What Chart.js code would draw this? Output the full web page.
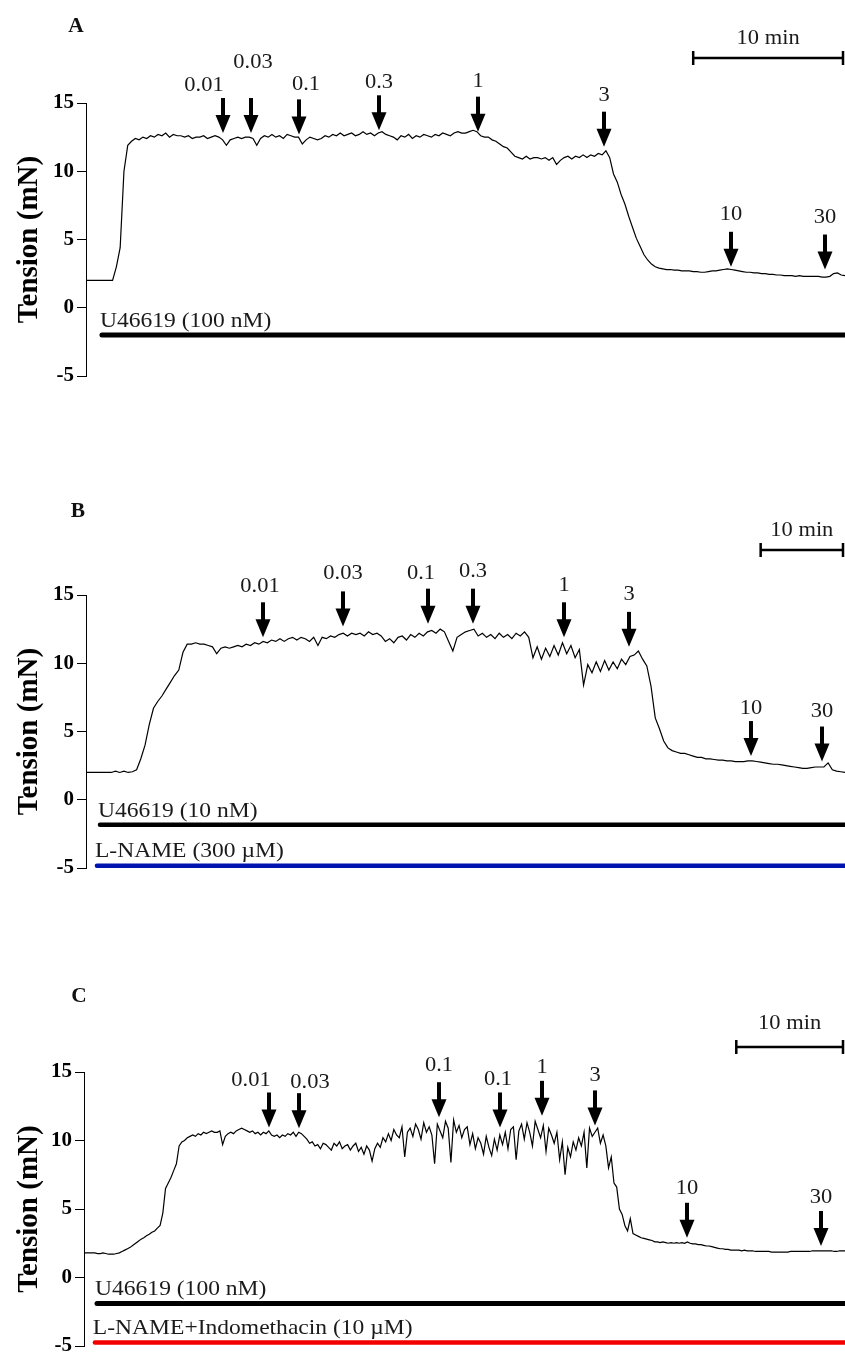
<!DOCTYPE html>
<html>
<head>
<meta charset="utf-8">
<script src="https://cdn.jsdelivr.net/npm/chart.js@4.4.1/dist/chart.umd.min.js"></script>
<style>
  body { margin: 0; background: #fff; }
  #wrap { position: relative; width: 845px; height: 1354px; }
  canvas { position: absolute; left: 0; }
</style>
</head>
<body>
<div id="wrap">
  <canvas id="panel-a" width="845" height="400" style="top:0"></canvas>
  <canvas id="panel-b" width="845" height="400" style="top:480px"></canvas>
  <canvas id="panel-c" width="845" height="394" style="top:960px"></canvas>
</div>
<script>
// Tension traces (mN), one reading per sample step (min)
const stepA = 0.25;
const tensionA = [
  2.0, 2.0, 2.0, 2.0, 2.0, 2.0, 2.0, 2.0, 3.0, 4.4, 10.0, 11.9, 12.2, 12.4, 12.3, 12.5, 12.4, 12.6, 12.5, 12.7,
  12.6, 12.8, 12.5, 12.7, 12.6, 12.6, 12.5, 12.6, 12.4, 12.5, 12.5, 12.6, 12.4, 12.5, 12.6, 12.5, 12.3, 11.9, 12.3, 12.4,
  12.5, 12.4, 12.5, 12.5, 12.4, 11.9, 12.4, 12.6, 12.5, 12.7, 12.5, 12.6, 12.4, 12.7, 12.6, 12.5, 12.5, 12.0, 12.3, 12.5,
  12.4, 12.3, 12.4, 12.6, 12.5, 12.7, 12.6, 12.8, 12.6, 12.7, 12.8, 12.6, 12.7, 12.9, 12.7, 12.8, 12.6, 12.8, 12.9, 12.7,
  12.6, 12.5, 12.3, 12.6, 12.5, 12.7, 12.4, 12.6, 12.5, 12.7, 12.6, 12.5, 12.7, 12.6, 12.8, 12.7, 12.6, 12.8, 12.9, 12.8,
  12.8, 12.9, 13.0, 12.9, 12.6, 12.5, 12.5, 12.3, 12.2, 12.0, 11.8, 11.7, 11.4, 11.1, 11.0, 10.9, 11.1, 10.9, 11.0, 11.0,
  10.9, 11.0, 10.8, 11.0, 10.5, 10.8, 11.0, 11.1, 10.9, 11.1, 11.0, 11.2, 11.0, 11.2, 11.1, 11.3, 11.2, 11.5, 11.0, 9.8,
  9.2, 8.3, 7.6, 6.7, 5.9, 5.1, 4.5, 3.9, 3.5, 3.2, 3.0, 2.9, 2.85, 2.8, 2.8, 2.75, 2.75, 2.7, 2.7, 2.7,
  2.65, 2.65, 2.6, 2.6, 2.65, 2.7, 2.7, 2.75, 2.8, 2.85, 2.8, 2.75, 2.7, 2.65, 2.6, 2.6, 2.55, 2.55, 2.5, 2.5,
  2.45, 2.45, 2.4, 2.4, 2.35, 2.35, 2.35, 2.3, 2.35, 2.3, 2.3, 2.3, 2.3, 2.3, 2.25, 2.25, 2.3, 2.5, 2.55, 2.4,
  2.35
];

const stepB = 0.5;
const tensionB = [
  2.0, 2.0, 2.0, 2.0, 2.0, 2.0, 2.0, 2.1, 2.0, 2.1,
  2.0, 2.05, 2.2, 3.0, 4.0, 5.5, 6.7, 7.2, 7.6, 8.1,
  8.6, 9.1, 9.5, 10.8, 11.4, 11.4, 11.5, 11.4, 11.4, 11.3,
  11.2, 10.7, 11.1, 11.2, 11.1, 11.2, 11.3, 11.2, 11.4, 11.3,
  11.5, 11.4, 11.6, 11.5, 11.7, 11.6, 11.8, 11.6, 11.8, 11.9,
  11.7, 11.9, 11.8, 11.6, 11.9, 11.3, 11.9, 11.8, 12.0, 11.9,
  12.1, 12.2, 12.0, 12.2, 12.1, 12.2, 12.0, 12.3, 12.1, 12.2,
  12.0, 11.6, 11.8, 11.5, 11.9, 12.0, 11.7, 12.1, 11.9, 12.2,
  12.0, 12.3, 12.4, 12.2, 12.5, 12.3, 11.6, 10.9, 11.9, 12.1,
  12.3, 12.4, 12.5, 12.0, 12.2, 11.9, 12.1, 11.8, 12.2, 11.9,
  12.1, 11.8, 12.2, 12.0, 12.3, 11.9, 10.4, 11.2, 10.3, 11.1,
  10.5, 11.3, 10.6, 11.5, 10.7, 11.3, 10.4, 11.0, 8.4, 9.9,
  9.3, 10.1, 9.4, 10.2, 9.5, 10.1, 9.6, 10.3, 9.9, 10.5,
  10.6, 10.9, 10.3, 9.8, 8.3, 6.0, 5.2, 4.3, 3.8, 3.6,
  3.5, 3.4, 3.4, 3.3, 3.2, 3.1, 3.1, 3.0, 3.0, 2.95,
  2.9, 2.9, 2.85, 2.85, 2.8, 2.8, 2.8, 2.85, 2.85, 2.8,
  2.75, 2.7, 2.65, 2.6, 2.6, 2.55, 2.5, 2.45, 2.4, 2.35,
  2.3, 2.3, 2.35, 2.4, 2.4, 2.4, 2.7, 2.2, 2.1, 2.05,
  2.0
];

const stepC = 0.25;
const tensionC = [
  1.8, 1.8, 1.8, 1.8, 1.8, 1.75, 1.75, 1.8, 1.75, 1.7, 1.7, 1.7, 1.75, 1.8, 1.9, 2.0, 2.1, 2.2, 2.35, 2.5,
  2.65, 2.8, 2.9, 3.05, 3.15, 3.3, 3.4, 3.6, 3.8, 4.7, 6.5, 6.9, 7.3, 7.8, 8.3, 9.6, 9.9, 10.0, 10.2, 10.3,
  10.4, 10.3, 10.5, 10.4, 10.6, 10.5, 10.6, 10.7, 10.6, 10.6, 10.7, 9.7, 10.3, 10.5, 10.6, 10.5, 10.7, 10.8, 10.9, 10.8,
  10.7, 10.6, 10.7, 10.5, 10.6, 10.4, 10.6, 10.5, 10.7, 10.4, 10.3, 10.4, 10.2, 10.4, 10.3, 10.5, 10.4, 10.6, 10.3, 10.6,
  10.5, 10.3, 10.1, 9.8, 9.9, 9.6, 9.7, 9.4, 9.8, 9.7, 9.5, 9.3, 9.8, 9.6, 9.9, 9.4, 9.6, 9.7, 9.3, 9.6,
  9.8, 9.2, 9.5, 9.0, 9.6, 9.3, 8.5, 9.4, 9.8, 9.5, 10.2, 9.9, 10.5, 10.0, 10.8, 10.4, 10.2, 11.0, 8.8, 10.6,
  10.9, 10.3, 11.2, 10.8, 10.1, 11.3, 10.6, 11.0, 10.4, 8.3, 11.2, 10.7, 10.2, 11.4, 10.9, 8.4, 11.5, 10.6, 11.1, 10.2,
  10.8, 11.0, 9.7, 10.5, 9.4, 10.2, 9.8, 9.0, 10.3, 9.5, 8.9, 10.1, 9.3, 10.4, 9.7, 10.6, 9.4, 10.8, 11.0, 8.6,
  10.7, 11.2, 10.1, 11.3, 10.6, 9.6, 11.4, 10.8, 10.2, 11.1, 9.2, 10.9, 10.4, 9.8, 10.6, 8.6, 9.9, 7.5, 9.5, 8.8,
  9.9, 9.3, 10.2, 9.6, 10.6, 8.0, 10.9, 10.3, 10.6, 10.9, 9.8, 10.4, 9.6, 8.0, 8.8, 6.9, 6.6, 5.0, 4.6, 3.8,
  3.4, 4.3, 3.2, 3.1, 3.0, 2.9, 2.85, 2.8, 2.75, 2.7, 2.6, 2.6, 2.55, 2.6, 2.55, 2.5, 2.55, 2.5, 2.55, 2.5,
  2.55, 2.5, 2.6, 2.5, 2.45, 2.45, 2.4, 2.4, 2.35, 2.3, 2.3, 2.25, 2.2, 2.15, 2.1, 2.1, 2.05, 2.05, 2.0, 2.0,
  2.0, 2.0, 1.95, 2.0, 1.95, 1.95, 1.95, 1.9, 1.9, 1.9, 1.9, 1.9, 1.9, 1.85, 1.85, 1.85, 1.85, 1.85, 1.85, 1.85,
  1.9, 1.9, 1.9, 1.9, 1.9, 1.9, 1.9, 1.9, 1.95, 1.95, 1.95, 1.95, 1.95, 1.95, 1.95, 1.95, 1.9, 1.9, 1.95, 1.95,
  1.95
];

// Cumulative additions (arrow labels), when they were given (min) and tension at the arrow tip (mN)
const dosesA = ['0.01', '0.03', '0.1', '0.3', '1', '3', '10', '30'];
const doseTimesA = [9.0, 10.9, 14.0, 19.3, 25.8, 34.1, 42.5, 48.7];
const doseTipsA = [12.8, 12.8, 12.7, 13.0, 12.9, 11.8, 3.0, 2.8];

const dosesB = ['0.01', '0.03', '0.1', '0.3', '1', '3', '10', '30'];
const doseTimesB = [21.0, 30.5, 40.5, 45.9, 56.7, 64.4, 78.8, 87.3];
const doseTipsB = [11.9, 12.7, 12.9, 12.9, 11.9, 11.2, 3.2, 2.8];

const dosesC = ['0.01', '0.03', '0.1', '0.1', '1', '3', '10', '30'];
const doseTimesC = [17.0, 19.8, 32.7, 38.3, 42.1, 47.0, 55.5, 67.8];
const doseTipsC = [10.95, 10.9, 11.7, 10.95, 11.8, 11.1, 2.9, 2.3];

// Drugs present in the bath and when they went in (min)
const drugsA = ['U46619 (100 nM)'];
const drugStartA = [1.05];
const drugsB = ['U46619 (10 nM)', 'L-NAME (300 \u00b5M)'];
const drugStartB = [1.66, 1.3];
const drugsC = ['U46619 (100 nM)', 'L-NAME+Indomethacin (10 \u00b5M)'];
const drugStartC = [1.2, 1.0];

const yTicks = [-5, 0, 5, 10, 15];

// ---- look & placement ----
const SERIF = '"Liberation Serif", "Times New Roman", serif';
const TEXT_STRETCH = 1.07;
const ARROW = { len: 35, headH: 18, headW: 15, shaft: 4 };

const panels = [
  {
    id: 'panel-a', letter: 'A', span: 50, step: stepA, tension: tensionA,
    doses: dosesA, doseTimes: doseTimesA, doseTips: doseTipsA,
    drugs: drugsA, drugStart: drugStartA,
    look: {
      axisX: 86, padTop: 103, padBottom: 24, letter: [76, 27],
      scaleBar: [40, 50], scaleY: 58, scaleLabelY: 38,
      drugLevels: [-2.0], drugColors: ['#000'], drugWidths: [5],
      nudges: [[-19, 1], [2, -22], [7, -1], [0, 1], [0, -1], [0, -2], [0, -3], [0, -3]]
    }
  },
  {
    id: 'panel-b', letter: 'B', span: 90, step: stepB, tension: tensionB,
    doses: dosesB, doseTimes: doseTimesB, doseTips: doseTipsB,
    drugs: drugsB, drugStart: drugStartB,
    look: {
      axisX: 86, padTop: 115, padBottom: 12, letter: [78, 32],
      scaleBar: [80, 90], scaleY: 70, scaleLabelY: 50,
      drugLevels: [-1.83, -4.83], drugColors: ['#000', '#0012b0'], drugWidths: [4.5, 4.5],
      nudges: [[-3, -2], [0, -4], [-7, -1], [0, -3], [0, -3], [0, -3], [0, 1], [0, -1]]
    }
  },
  {
    id: 'panel-c', letter: 'C', span: 70, step: stepC, tension: tensionC,
    doses: dosesC, doseTimes: doseTimesC, doseTips: doseTipsC,
    drugs: drugsC, drugStart: drugStartC,
    look: {
      axisX: 84, padTop: 112, padBottom: 8, letter: [79, 37],
      scaleBar: [60, 70], scaleY: 87, scaleLabelY: 63,
      drugLevels: [-1.9, -4.75], drugColors: ['#000', '#f20000'], drugWidths: [5, 4.5],
      nudges: [[-18, 2], [11, 3], [0, -3], [-2, 1], [0, 1], [0, -1], [0, 0], [0, 0]]
    }
  }
];

const panelById = {};
panels.forEach(p => { panelById[p.id] = p; });

function stretchText(ctx, text, x, y) {
  ctx.save();
  ctx.translate(x, y);
  ctx.scale(TEXT_STRETCH, 1);
  ctx.fillText(text, 0, 0);
  ctx.restore();
}

// arrows, labels, scale bar and panel letter
const traceMarks = {
  id: 'traceMarks',
  afterDraw(chart) {
    const p = panelById[chart.canvas.id];
    const look = p.look;
    const ctx = chart.ctx;
    const xs = chart.scales.x;
    const ys = chart.scales.y;
    ctx.save();
    ctx.fillStyle = '#111';
    ctx.strokeStyle = '#000';
    ctx.textBaseline = 'middle';

    ctx.textAlign = 'center';
    ctx.font = 'bold 20px ' + SERIF;
    stretchText(ctx, p.letter, look.letter[0], look.letter[1]);

    ctx.font = '21px ' + SERIF;
    p.doseTimes.forEach((t, i) => {
      const ax = Math.round(xs.getPixelForValue(t));
      const tip = ys.getPixelForValue(p.doseTips[i]);
      const top = tip - ARROW.len;
      ctx.fillStyle = '#000';
      ctx.fillRect(ax - ARROW.shaft / 2, top, ARROW.shaft, ARROW.len - ARROW.headH + 1);
      ctx.beginPath();
      ctx.moveTo(ax - ARROW.headW / 2, tip - ARROW.headH);
      ctx.lineTo(ax + ARROW.headW / 2, tip - ARROW.headH);
      ctx.lineTo(ax, tip);
      ctx.closePath();
      ctx.fill();
      const n = look.nudges[i];
      ctx.fillStyle = '#1a1a1a';
      stretchText(ctx, p.doses[i], ax + n[0], top - 14 + n[1]);
    });

    // 10 min bar
    const x0 = xs.getPixelForValue(look.scaleBar[0]);
    const x1 = xs.getPixelForValue(look.scaleBar[1]) - 2;
    ctx.lineWidth = 2.5;
    ctx.beginPath();
    ctx.moveTo(x0, look.scaleY);
    ctx.lineTo(x1, look.scaleY);
    ctx.moveTo(x0, look.scaleY - 7);
    ctx.lineTo(x0, look.scaleY + 7);
    ctx.moveTo(x1, look.scaleY - 7);
    ctx.lineTo(x1, look.scaleY + 7);
    ctx.stroke();
    ctx.fillStyle = '#1a1a1a';
    stretchText(ctx, '10 min', (x0 + x1) / 2, look.scaleLabelY);

    // drug labels above their bars
    ctx.textAlign = 'left';
    ctx.font = '22px ' + SERIF;
    p.drugs.forEach((name, i) => {
      const bx = xs.getPixelForValue(p.drugStart[i]);
      const by = ys.getPixelForValue(look.drugLevels[i]);
      stretchText(ctx, name, bx - 2, by - 14);
    });
    ctx.restore();
  }
};

panels.forEach(p => {
  const look = p.look;
  const datasets = [{
    data: p.tension.map((v, i) => ({ x: i * p.step, y: v })),
    borderColor: '#000',
    borderWidth: 1.2,
    pointRadius: 0,
    tension: 0
  }];
  p.drugs.forEach((name, i) => {
    datasets.push({
      data: [{ x: p.drugStart[i], y: look.drugLevels[i] }, { x: p.span, y: look.drugLevels[i] }],
      borderColor: look.drugColors[i],
      borderWidth: look.drugWidths[i],
      borderCapStyle: 'round',
      pointRadius: 0,
      clip: false
    });
  });

  new Chart(document.getElementById(p.id), {
    type: 'line',
    data: { datasets: datasets },
    plugins: [traceMarks],
    options: {
      responsive: false,
      animation: false,
      events: [],
      layout: { padding: { top: look.padTop, bottom: look.padBottom, left: 0, right: 0 } },
      plugins: { legend: { display: false }, tooltip: { enabled: false } },
      scales: {
        x: { type: 'linear', display: false, min: 0, max: p.span },
        y: {
          min: -5,
          max: 15,
          afterBuildTicks(scale) { scale.ticks = yTicks.map(v => ({ value: v })); },
          ticks: {
            color: '#000',
            padding: 3,
            font: { family: SERIF, size: 21, weight: 'bold' }
          },
          grid: { drawOnChartArea: false, drawTicks: true, tickLength: 9, color: '#000' },
          border: { display: true, color: '#000', width: 1 },
          title: {
            display: true,
            text: 'Tension (mN)',
            color: '#000',
            font: { family: SERIF, size: 29, weight: 'bold' },
            padding: { top: 12, bottom: 0 }
          },
          afterFit(scale) {
            scale.width = look.axisX;
            scale.paddingTop = 0;
            scale.paddingBottom = 0;
          }
        }
      }
    }
  });
});
</script>
</body>
</html>
